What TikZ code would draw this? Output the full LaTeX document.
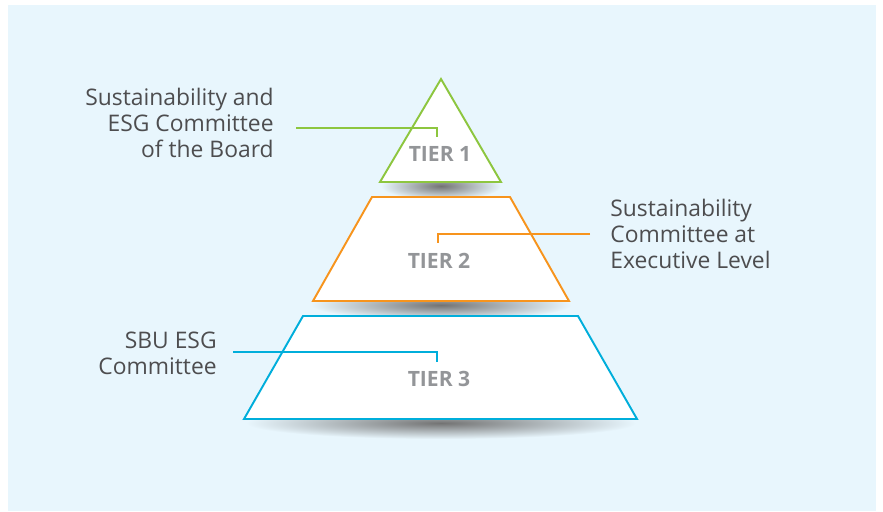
\documentclass[tikz,border=0pt]{standalone}
\usepackage{fontspec}
\setmainfont{Open Sans}
\usetikzlibrary{positioning, calc}
\definecolor{bgblue}{HTML}{E8F6FD}
\definecolor{tonegreen}{HTML}{8DC63F}
\definecolor{toneorange}{HTML}{F7941D}
\definecolor{tonecyan}{HTML}{00AEDB}
\definecolor{labelgray}{HTML}{4D4D4F}
\definecolor{tiergray}{HTML}{939598}

\begin{document}
\begin{tikzpicture}[
    x=0.02cm, y=-0.02cm,
    lbl/.style={font=\fontsize{13}{14.8}\selectfont, text=labelgray, inner sep=0pt},
    tier/.style={font=\fontsize{12}{13}\selectfont\bfseries, text=tiergray, inner sep=0pt},
    outline/.style={line width=1.1pt, fill=white, line join=miter},
    lead/.style={line width=0.8pt},
    drop/.style={inner color=black!55, outer color=bgblue}
  ]
  % page and background
  \useasboundingbox (0,0) rectangle (883,511);
  \fill[bgblue] (8,5) rectangle (876,511);

  % Tier 1 (top)
  \shade[drop] (441,186) ellipse (1.2cm and 0.28cm);
  \draw[outline, draw=tonegreen] (441,79) -- (501,182) -- (380,182) -- cycle;
  \node[tier] (t1) at (440,154) {TIER 1};
  \coordinate (t1p) at (437,137);

  % Tier 2 (middle)
  \shade[drop] (441,305) ellipse (2.6cm and 0.3cm);
  \draw[outline, draw=toneorange] (372,197) -- (510,197) -- (569,301) -- (313,301) -- cycle;
  \node[tier] (t2) at (439,261) {TIER 2};
  \coordinate (t2p) at (438,243);

  % Tier 3 (bottom)
  \shade[drop] (441,423) ellipse (3.9cm and 0.32cm);
  \draw[outline, draw=tonecyan] (303,316) -- (578,316) -- (637,419) -- (244,419) -- cycle;
  \node[tier] (t3) at (439,379) {TIER 3};
  \coordinate (t3p) at (437,362);

  % labels and leaders
  \node[lbl, anchor=east, align=right] (l1) at (274,123)
    {Sustainability and\\ESG Committee\\of the Board};
  \node[lbl, anchor=west, align=left] (l2) at (610,234)
    {Sustainability\\Committee at\\Executive Level};
  \node[lbl, anchor=east, align=right] (l3) at (217,353)
    {SBU ESG\\Committee};
  \draw[lead, tonegreen] ($(l1.east)+(22,5)$) -| (t1p);
  \draw[lead, toneorange] ($(l2.west)+(-20,0)$) -| (t2p);
  \draw[lead, tonecyan] ($(l3.east)+(16,-1)$) -| (t3p);
\end{tikzpicture}
\end{document}
